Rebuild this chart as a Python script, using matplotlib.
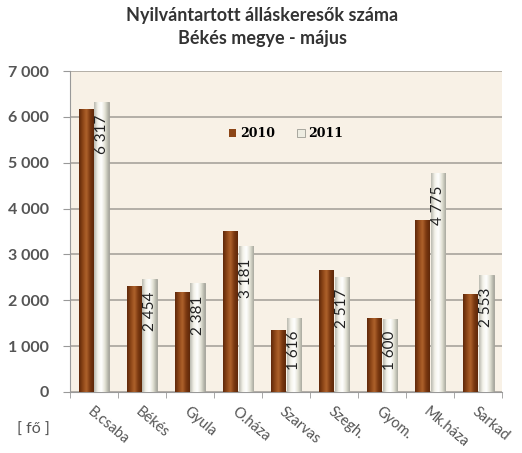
"""Nyilvántartott álláskeresők száma, Békés megye - május"""
import matplotlib
matplotlib.use('Agg')
import matplotlib.pyplot as plt
import numpy as np
from matplotlib.colors import LinearSegmentedColormap
from matplotlib.ticker import FuncFormatter

plt.rcParams['font.family'] = ['Lato', 'DejaVu Sans']

categories = ['B.csaba', 'Békés', 'Gyula', 'O.háza', 'Szarvas', 'Szegh.', 'Gyom.', 'Mk.háza', 'Sarkad']
values_2010 = [6180, 2320, 2170, 3500, 1350, 2650, 1610, 3760, 2130]
values_2011 = [6317, 2454, 2381, 3181, 1616, 2517, 1600, 4775, 2553]
series_names = ['2010', '2011']
title = 'Nyilvántartott álláskeresők száma\nBékés megye - május'
y_ticks = [0, 1000, 2000, 3000, 4000, 5000, 6000, 7000]

cmap_2010 = LinearSegmentedColormap.from_list('b', ['#5e280a', '#8c4516', '#b0632c', '#7a3810', '#5e280a'])
cmap_2011 = LinearSegmentedColormap.from_list('w', ['#b8b8ae', '#f4f3ea', '#ffffff', '#e2e1d4', '#a8a89e'])


def gradient_bars(ax, bars, cmap):
    grad = np.linspace(0, 1, 64).reshape(1, -1)
    for b in bars:
        x0, y0 = b.get_x(), b.get_y()
        w, h = b.get_width(), b.get_height()
        im = ax.imshow(grad, cmap=cmap, aspect='auto', extent=(x0, x0 + w, y0, y0 + h),
                       zorder=3, interpolation='bicubic')
        im.set_clip_path(b)


fig = plt.figure(figsize=(5.22, 4.53), dpi=100)
ax = fig.add_axes([0.134, 0.135, 0.828, 0.708])
ax.set_facecolor('#f8f1e6')

x = np.arange(len(categories))
w = 0.31
b1 = ax.bar(x - w / 2 - 0.01, values_2010, w, color='#8c4516', zorder=2, label=series_names[0])
b2 = ax.bar(x + w / 2 + 0.01, values_2011, w, color='#eeede2', edgecolor='#9c9c94',
            linewidth=0.6, zorder=2, label=series_names[1])
gradient_bars(ax, b1, cmap_2010)
gradient_bars(ax, b2, cmap_2011)

for xi, v in zip(x, values_2011):
    ax.annotate(f'{v:,}'.replace(',', ' '), (xi + w / 2 + 0.01, v), xytext=(0, -9),
                textcoords='offset points', rotation=90, ha='center', va='top',
                fontsize=11, color='#222222', zorder=5)

ax.set_xlim(-0.5, len(categories) - 0.5)
ax.set_ylim(0, 7000)
ax.set_yticks(y_ticks)
ax.yaxis.set_major_formatter(FuncFormatter(lambda v, p: f'{int(v):,}'.replace(',', ' ')))
ax.yaxis.grid(True, color='#a8a49c', linewidth=1.2, zorder=0)
ax.set_axisbelow(True)

ax.set_xticks(x)
ax.set_xticklabels(categories, rotation=-40, ha='left', va='top', rotation_mode='anchor',
                   fontsize=10.5, color='#555555')
ax.set_xticks(np.arange(len(categories) + 1) - 0.5, minor=True)
ax.tick_params(axis='x', which='major', length=0, pad=9)
ax.tick_params(axis='x', which='minor', length=4, color='#999999')
ax.tick_params(axis='y', length=5, color='#999999', labelsize=11.5, labelcolor='#555555', pad=10)
for lbl in ax.get_yticklabels():
    lbl.set_fontweight('bold')

for s in ['top', 'right']:
    ax.spines[s].set_visible(False)
ax.spines['left'].set_color('#999999')
ax.spines['bottom'].set_color('#999999')

leg = ax.legend(loc='upper center', bbox_to_anchor=(0.5, 0.86), ncol=2, frameon=False,
                handlelength=0.6, handleheight=0.6, columnspacing=1.8, handletextpad=0.3,
                prop={'family': 'DejaVu Serif', 'weight': 'bold', 'size': 9})

fig.text(0.502, 0.985, title, ha='center', va='top', fontsize=13, fontweight='bold',
         color='#333333', linespacing=1.45)
fig.text(0.065, 0.035, '[ fő ]', ha='center', va='bottom', fontsize=11.5, color='#555555')

fig.savefig('out.png', dpi=100)
